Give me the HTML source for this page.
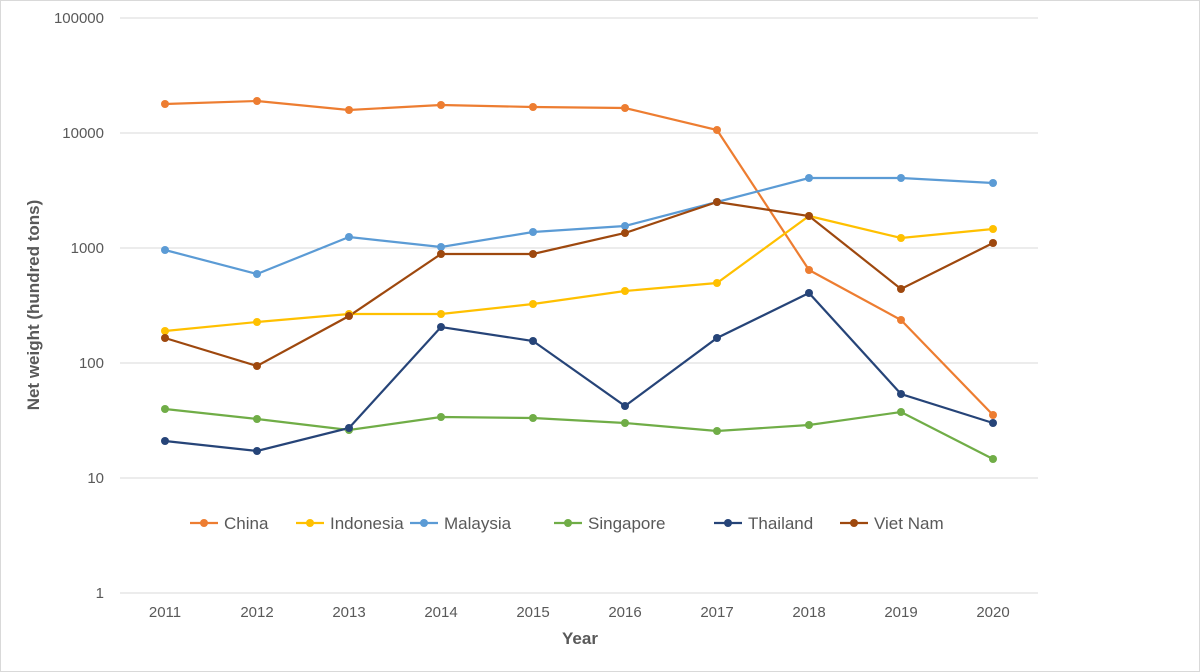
<!DOCTYPE html>
<html><head><style>body{margin:0;background:#fff}svg{display:block}</style></head><body>
<svg width="1200" height="672" xmlns="http://www.w3.org/2000/svg" font-family="Liberation Sans, sans-serif">
<rect x="0.5" y="0.5" width="1199" height="671" fill="#fff" stroke="#d9d9d9"/>
<g stroke="#d9d9d9" stroke-width="1">
<line x1="120" y1="18" x2="1038" y2="18"/><line x1="120" y1="133" x2="1038" y2="133"/>
<line x1="120" y1="248" x2="1038" y2="248"/><line x1="120" y1="363" x2="1038" y2="363"/>
<line x1="120" y1="478" x2="1038" y2="478"/><line x1="120" y1="593" x2="1038" y2="593"/>
</g>
<g font-size="15" fill="#595959" text-anchor="end">
<text x="104" y="23">100000</text><text x="104" y="138">10000</text><text x="104" y="253">1000</text>
<text x="104" y="368">100</text><text x="104" y="483">10</text><text x="104" y="598">1</text>
</g>
<g font-size="15" fill="#595959" text-anchor="middle">
<text x="165" y="617">2011</text><text x="257" y="617">2012</text><text x="349" y="617">2013</text><text x="441" y="617">2014</text><text x="533" y="617">2015</text><text x="625" y="617">2016</text><text x="717" y="617">2017</text><text x="809" y="617">2018</text><text x="901" y="617">2019</text><text x="993" y="617">2020</text>
</g>
<text x="580" y="644" font-size="17" font-weight="bold" fill="#595959" text-anchor="middle">Year</text>
<text transform="translate(39,305) rotate(-90)" font-size="17" font-weight="bold" fill="#595959" text-anchor="middle">Net weight (hundred tons)</text>
<g fill="none" stroke-width="2.2">
<polyline stroke="#ED7D31" points="165,104 257,101 349,110 441,105 533,107 625,108 717,130 809,270 901,320 993,415"/>
<polyline stroke="#FFC000" points="165,331 257,322 349,314 441,314 533,304 625,291 717,283 809,216 901,238 993,229"/>
<polyline stroke="#5B9BD5" points="165,250 257,274 349,237 441,247 533,232 625,226 717,202 809,178 901,178 993,183"/>
<polyline stroke="#70AD47" points="165,409 257,419 349,430 441,417 533,418 625,423 717,431 809,425 901,412 993,459"/>
<polyline stroke="#264478" points="165,441 257,451 349,428 441,327 533,341 625,406 717,338 809,293 901,394 993,423"/>
<polyline stroke="#9E480E" points="165,338 257,366 349,316 441,254 533,254 625,233 717,202 809,216 901,289 993,243"/>
</g>
<g fill="#ED7D31"><circle cx="165" cy="104" r="4"/><circle cx="257" cy="101" r="4"/><circle cx="349" cy="110" r="4"/><circle cx="441" cy="105" r="4"/><circle cx="533" cy="107" r="4"/><circle cx="625" cy="108" r="4"/><circle cx="717" cy="130" r="4"/><circle cx="809" cy="270" r="4"/><circle cx="901" cy="320" r="4"/><circle cx="993" cy="415" r="4"/></g>
<g fill="#FFC000"><circle cx="165" cy="331" r="4"/><circle cx="257" cy="322" r="4"/><circle cx="349" cy="314" r="4"/><circle cx="441" cy="314" r="4"/><circle cx="533" cy="304" r="4"/><circle cx="625" cy="291" r="4"/><circle cx="717" cy="283" r="4"/><circle cx="809" cy="216" r="4"/><circle cx="901" cy="238" r="4"/><circle cx="993" cy="229" r="4"/></g>
<g fill="#5B9BD5"><circle cx="165" cy="250" r="4"/><circle cx="257" cy="274" r="4"/><circle cx="349" cy="237" r="4"/><circle cx="441" cy="247" r="4"/><circle cx="533" cy="232" r="4"/><circle cx="625" cy="226" r="4"/><circle cx="717" cy="202" r="4"/><circle cx="809" cy="178" r="4"/><circle cx="901" cy="178" r="4"/><circle cx="993" cy="183" r="4"/></g>
<g fill="#70AD47"><circle cx="165" cy="409" r="4"/><circle cx="257" cy="419" r="4"/><circle cx="349" cy="430" r="4"/><circle cx="441" cy="417" r="4"/><circle cx="533" cy="418" r="4"/><circle cx="625" cy="423" r="4"/><circle cx="717" cy="431" r="4"/><circle cx="809" cy="425" r="4"/><circle cx="901" cy="412" r="4"/><circle cx="993" cy="459" r="4"/></g>
<g fill="#264478"><circle cx="165" cy="441" r="4"/><circle cx="257" cy="451" r="4"/><circle cx="349" cy="428" r="4"/><circle cx="441" cy="327" r="4"/><circle cx="533" cy="341" r="4"/><circle cx="625" cy="406" r="4"/><circle cx="717" cy="338" r="4"/><circle cx="809" cy="293" r="4"/><circle cx="901" cy="394" r="4"/><circle cx="993" cy="423" r="4"/></g>
<g fill="#9E480E"><circle cx="165" cy="338" r="4"/><circle cx="257" cy="366" r="4"/><circle cx="349" cy="316" r="4"/><circle cx="441" cy="254" r="4"/><circle cx="533" cy="254" r="4"/><circle cx="625" cy="233" r="4"/><circle cx="717" cy="202" r="4"/><circle cx="809" cy="216" r="4"/><circle cx="901" cy="289" r="4"/><circle cx="993" cy="243" r="4"/></g>
<g font-size="17" fill="#595959" stroke-width="2.2">
<line x1="190" y1="523" x2="218" y2="523" stroke="#ED7D31"/><circle cx="204" cy="523" r="4" fill="#ED7D31"/><text x="224" y="529">China</text>
<line x1="296" y1="523" x2="324" y2="523" stroke="#FFC000"/><circle cx="310" cy="523" r="4" fill="#FFC000"/><text x="330" y="529">Indonesia</text>
<line x1="410" y1="523" x2="438" y2="523" stroke="#5B9BD5"/><circle cx="424" cy="523" r="4" fill="#5B9BD5"/><text x="444" y="529">Malaysia</text>
<line x1="554" y1="523" x2="582" y2="523" stroke="#70AD47"/><circle cx="568" cy="523" r="4" fill="#70AD47"/><text x="588" y="529">Singapore</text>
<line x1="714" y1="523" x2="742" y2="523" stroke="#264478"/><circle cx="728" cy="523" r="4" fill="#264478"/><text x="748" y="529">Thailand</text>
<line x1="840" y1="523" x2="868" y2="523" stroke="#9E480E"/><circle cx="854" cy="523" r="4" fill="#9E480E"/><text x="874" y="529">Viet Nam</text>
</g>
</svg>
</body></html>
